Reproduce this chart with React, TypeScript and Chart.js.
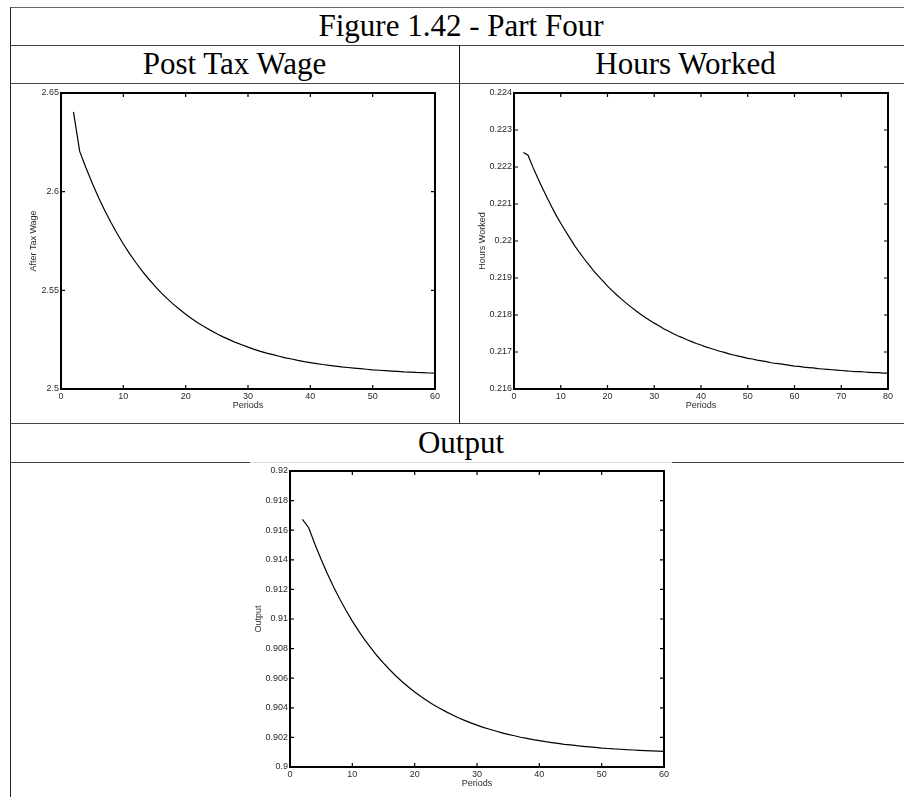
import React, { useEffect, useRef } from 'react';
import { Chart, registerables } from 'chart.js';

Chart.register(...registerables);

// Simulation periods on the horizontal axis
const PERIODS = [
  2, 3, 4, 5, 6, 7, 8, 9, 10, 11, 12, 13, 14, 15, 16, 17, 18, 19, 20, 21,
  22, 23, 24, 25, 26, 27, 28, 29, 30, 31, 32, 33, 34, 35, 36, 37, 38, 39, 40, 41,
  42, 43, 44, 45, 46, 47, 48, 49, 50, 51, 52, 53, 54, 55, 56, 57, 58, 59, 60, 61,
  62, 63, 64, 65, 66, 67, 68, 69, 70, 71, 72, 73, 74, 75, 76, 77, 78, 79, 80,
];

// After-tax wage, periods 2..60
const WAGE = [
  2.6404, 2.6204, 2.6121, 2.6044, 2.5972, 2.5906, 2.5845, 2.5788, 2.5735, 2.5686,
  2.5641, 2.5599, 2.556, 2.5524, 2.549, 2.5459, 2.543, 2.5404, 2.5379, 2.5356,
  2.5335, 2.5315, 2.5297, 2.528, 2.5264, 2.525, 2.5236, 2.5224, 2.5212, 2.5201,
  2.5191, 2.5182, 2.5174, 2.5166, 2.5158, 2.5152, 2.5145, 2.5139, 2.5134, 2.5129,
  2.5124, 2.512, 2.5116, 2.5112, 2.5109, 2.5106, 2.5103, 2.51, 2.5097, 2.5095,
  2.5093, 2.5091, 2.5089, 2.5087, 2.5086, 2.5084, 2.5083, 2.5081, 2.508,
];

// Hours worked, periods 2..80
const HOURS = [
  0.22239, 0.22232, 0.22201, 0.22172, 0.22145, 0.22119, 0.22094, 0.2207, 0.22048, 0.22027,
  0.22007, 0.21987, 0.21969, 0.21952, 0.21936, 0.2192, 0.21906, 0.21892, 0.21878, 0.21866,
  0.21854, 0.21843, 0.21832, 0.21822, 0.21812, 0.21803, 0.21794, 0.21786, 0.21778, 0.21771,
  0.21763, 0.21757, 0.2175, 0.21744, 0.21739, 0.21733, 0.21728, 0.21723, 0.21719, 0.21714,
  0.2171, 0.21706, 0.21702, 0.21699, 0.21695, 0.21692, 0.21689, 0.21686, 0.21683, 0.21681,
  0.21678, 0.21676, 0.21674, 0.21671, 0.21669, 0.21668, 0.21666, 0.21664, 0.21662, 0.21661,
  0.21659, 0.21658, 0.21657, 0.21655, 0.21654, 0.21653, 0.21652, 0.21651, 0.2165, 0.21649,
  0.21648, 0.21647, 0.21647, 0.21646, 0.21645, 0.21644, 0.21644, 0.21643, 0.21643,
];

// Output, periods 2..60
const OUTPUT = [
  0.91673, 0.91617, 0.91505, 0.91402, 0.91305, 0.91216, 0.91134, 0.91057, 0.90986, 0.9092,
  0.90859, 0.90803, 0.9075, 0.90702, 0.90657, 0.90615, 0.90576, 0.90541, 0.90507, 0.90476,
  0.90448, 0.90421, 0.90397, 0.90374, 0.90353, 0.90333, 0.90315, 0.90298, 0.90283, 0.90268,
  0.90255, 0.90243, 0.90231, 0.9022, 0.90211, 0.90201, 0.90193, 0.90185, 0.90178, 0.90171,
  0.90165, 0.90159, 0.90153, 0.90149, 0.90144, 0.9014, 0.90136, 0.90132, 0.90128, 0.90125,
  0.90122, 0.9012, 0.90117, 0.90115, 0.90113, 0.90111, 0.90109, 0.90107, 0.90105,
];

// Axis ticks
const X_TICKS_60 = [0, 10, 20, 30, 40, 50, 60];
const X_TICKS_80 = [0, 10, 20, 30, 40, 50, 60, 70, 80];
const WAGE_TICKS = [2.5, 2.55, 2.6, 2.65];
const HOURS_TICKS = [0.216, 0.217, 0.218, 0.219, 0.22, 0.221, 0.222, 0.223, 0.224];
const OUTPUT_TICKS = [0.9, 0.902, 0.904, 0.906, 0.908, 0.91, 0.912, 0.914, 0.916, 0.918, 0.92];

const CANVAS_W = 422;
const CANVAS_H = 339;
const SANS = '"Liberation Sans", Arial, Helvetica, sans-serif';
const SERIF = '"Liberation Serif", "Times New Roman", Times, serif';
const TEXT = '#2a2a2a';

// Boxed axes with inward tick marks on all four sides
const boxFrame = {
  id: 'boxFrame',
  afterDatasetsDraw(chart: any) {
    const { ctx, chartArea, scales } = chart;
    const { left, top, right, bottom } = chartArea;
    const x = scales.x;
    const y = scales.y;
    const len = 4;
    ctx.save();
    ctx.strokeStyle = '#000';
    ctx.lineWidth = 1.2;
    ctx.beginPath();
    x.ticks.forEach((t: any) => {
      const px = x.getPixelForValue(t.value);
      ctx.moveTo(px, bottom);
      ctx.lineTo(px, bottom - len);
      ctx.moveTo(px, top);
      ctx.lineTo(px, top + len);
    });
    y.ticks.forEach((t: any) => {
      const py = y.getPixelForValue(t.value);
      ctx.moveTo(left, py);
      ctx.lineTo(left + len, py);
      ctx.moveTo(right, py);
      ctx.lineTo(right - len, py);
    });
    ctx.stroke();
    ctx.lineWidth = 2;
    ctx.strokeRect(left, top, right - left, bottom - top);
    ctx.restore();
  },
};

type PanelProps = {
  values: number[];
  xTicks: number[];
  yTicks: number[];
  yTitle: string;
  yTitlePad: number;
  left: number;
  top: number;
};

function Panel({ values, xTicks, yTicks, yTitle, yTitlePad, left, top }: PanelProps) {
  const ref = useRef<HTMLCanvasElement | null>(null);

  useEffect(() => {
    if (!ref.current) return;
    const font = { family: SANS, size: 9 };
    const chart = new Chart(ref.current, {
      type: 'line',
      data: {
        datasets: [
          {
            data: values.map((v, i) => ({ x: PERIODS[i], y: v })),
            borderColor: '#000',
            borderWidth: 1.2,
            pointRadius: 0,
            tension: 0,
            fill: false,
          },
        ],
      },
      options: {
        responsive: false,
        animation: false,
        devicePixelRatio: 1,
        layout: { padding: { left: 0, top: 9, right: 8, bottom: 0 } },
        plugins: { legend: { display: false }, tooltip: { enabled: false } },
        scales: {
          x: {
            type: 'linear',
            min: xTicks[0],
            max: xTicks[xTicks.length - 1],
            afterBuildTicks: (s: any) => {
              s.ticks = xTicks.map((value) => ({ value }));
            },
            afterFit: (s: any) => {
              s.height = 34;
            },
            grid: { display: false, drawTicks: false },
            border: { display: false },
            ticks: {
              padding: 2,
              font,
              color: TEXT,
              maxRotation: 0,
              autoSkip: false,
              callback: (v: any) => String(v),
            },
            title: {
              display: true,
              text: 'Periods',
              font,
              color: TEXT,
              padding: { top: 0, bottom: 12 },
            },
          },
          y: {
            type: 'linear',
            min: yTicks[0],
            max: yTicks[yTicks.length - 1],
            afterBuildTicks: (s: any) => {
              s.ticks = yTicks.map((value) => ({ value }));
            },
            afterFit: (s: any) => {
              s.width = 40;
            },
            grid: { display: false, drawTicks: false },
            border: { display: false },
            ticks: {
              padding: 2,
              font,
              color: TEXT,
              autoSkip: false,
              callback: (v: any) => String(v),
            },
            title: {
              display: true,
              text: yTitle,
              font,
              color: TEXT,
              padding: { top: yTitlePad, bottom: 0 },
            },
          },
        },
      },
      plugins: [boxFrame],
    } as any);
    return () => chart.destroy();
  }, [values, xTicks, yTicks, yTitle, yTitlePad]);

  return (
    <canvas
      ref={ref}
      width={CANVAS_W}
      height={CANVAS_H}
      style={{ position: 'absolute', left, top, width: CANVAS_W, height: CANVAS_H }}
    />
  );
}

const hRule = (y: number, x1: number, x2: number, color = '#444'): React.CSSProperties => ({
  position: 'absolute',
  left: x1,
  top: y,
  width: x2 - x1,
  height: 1,
  background: color,
});

const vRule = (x: number, y1: number, y2: number, color = '#111'): React.CSSProperties => ({
  position: 'absolute',
  left: x,
  top: y1,
  width: 1,
  height: y2 - y1,
  background: color,
});

const heading = (x: number, y: number, w: number, h: number): React.CSSProperties => ({
  position: 'absolute',
  left: x,
  top: y,
  width: w,
  height: h,
  lineHeight: `${h}px`,
  textAlign: 'center',
  fontFamily: SERIF,
  fontSize: 31,
  color: '#000',
  whiteSpace: 'nowrap',
});

export default function App() {
  return (
    <div
      style={{
        position: 'absolute',
        left: 0,
        top: 0,
        width: 904,
        height: 797,
        overflow: 'hidden',
        background: '#fff',
      }}
    >
      <div style={hRule(7, 10, 912, '#666')} />
      <div style={vRule(10, 7, 797, '#222')} />
      <div style={hRule(45, 10, 912)} />
      <div style={hRule(83, 10, 912)} />
      <div style={vRule(459, 45, 423)} />
      <div style={hRule(423, 10, 912)} />
      <div style={hRule(462, 10, 250)} />
      <div style={hRule(462, 250, 672, '#ddd')} />
      <div style={hRule(462, 672, 912)} />

      <div style={heading(10, 7, 902, 38)}>Figure 1.42 - Part Four</div>
      <div style={heading(10, 45, 449, 38)}>Post Tax Wage</div>
      <div style={heading(459, 45, 453, 38)}>Hours Worked</div>
      <div style={heading(10, 423, 902, 39)}>Output</div>

      <Panel
        values={WAGE}
        xTicks={X_TICKS_60}
        yTicks={WAGE_TICKS}
        yTitle="After Tax Wage"
        yTitlePad={7}
        left={21}
        top={84}
      />
      <Panel
        values={HOURS}
        xTicks={X_TICKS_80}
        yTicks={HOURS_TICKS}
        yTitle="Hours Worked"
        yTitlePad={3}
        left={474}
        top={84}
      />
      <Panel
        values={OUTPUT}
        xTicks={X_TICKS_60}
        yTicks={OUTPUT_TICKS}
        yTitle="Output"
        yTitlePad={3}
        left={250}
        top={462}
      />
    </div>
  );
}
